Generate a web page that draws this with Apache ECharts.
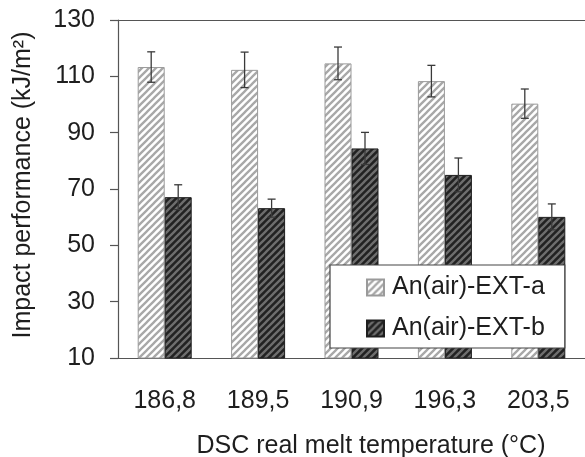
<!DOCTYPE html>
<html>
<head>
<meta charset="utf-8">
<script src="https://cdn.jsdelivr.net/npm/echarts@6/dist/echarts.min.js"></script>
<style>
  html, body { margin: 0; padding: 0; background: #fff; }
  #chart { width: 585px; height: 457px; }
</style>
</head>
<body>
<div id="chart"></div>
<script>
// Melt temperatures measured by DSC (°C)
const categories = ['186,8', '189,5', '190,9', '196,3', '203,5'];
// Impact performance (kJ/m²) and standard deviations
const seriesA = [113.3, 112.3, 114.6, 108.3, 100.3];
const errorA = [5.4, 6.3, 5.8, 5.6, 5.2];
const seriesB = [67.1, 63.2, 84.4, 75.0, 60.1];
const errorB = [4.4, 3.2, 5.7, 6.0, 4.6];
const yTicks = { min: 10, max: 130, step: 20 };
const seriesNames = ['An(air)-EXT-a', 'An(air)-EXT-b'];

const FONT = '"Liberation Sans", Arial, sans-serif';
const BAR_W = 27;

// Diagonal "/" hatch tile
function hatch(bg, fg, size, lw) {
  const c = document.createElement('canvas');
  c.width = size; c.height = size;
  const g = c.getContext('2d');
  g.fillStyle = bg;
  g.fillRect(0, 0, size, size);
  g.strokeStyle = fg;
  g.lineWidth = lw;
  g.lineCap = 'square';
  g.beginPath();
  g.moveTo(-1, size + 1); g.lineTo(size + 1, -1);
  g.moveTo(-1, 1); g.lineTo(1, -1);
  g.moveTo(size - 1, size + 1); g.lineTo(size + 1, size - 1);
  g.stroke();
  return c;
}

const patA = { image: hatch('#ffffff', '#a8a8a8', 7, 2.3), repeat: 'repeat' };
const patB = { image: hatch('#222222', '#6e6e6e', 7, 2.3), repeat: 'repeat' };

function errorSeries(values, errs, offset) {
  return {
    type: 'custom',
    xAxisIndex: 0,
    yAxisIndex: 0,
    silent: true,
    z: 5,
    data: values.map((v, i) => [i, v, errs[i]]),
    renderItem: function (params, api) {
      const i = api.value(0), v = api.value(1), e = api.value(2);
      const hi = api.coord([i, v + e]);
      const lo = api.coord([i, v - e]);
      const x = hi[0] + offset;
      const cap = 4;
      const style = { stroke: '#3a3a3a', lineWidth: 1.3 };
      return {
        type: 'group',
        children: [
          { type: 'line', shape: { x1: x, y1: hi[1], x2: x, y2: lo[1] }, style: style },
          { type: 'line', shape: { x1: x - cap, y1: hi[1], x2: x + cap, y2: hi[1] }, style: style },
          { type: 'line', shape: { x1: x - cap, y1: lo[1], x2: x + cap, y2: lo[1] }, style: style }
        ]
      };
    }
  };
}

const axisColor = '#555';
const textColor = '#1e1e1e';

const chart = echarts.init(document.getElementById('chart'), null, { renderer: 'canvas' });
chart.setOption({
  backgroundColor: '#ffffff',
  animation: false,
  grid: { left: 118, top: 20, width: 470, height: 338 },
  xAxis: [
    {
      type: 'category',
      data: categories,
      axisLine: { lineStyle: { color: axisColor, width: 1.2 } },
      axisTick: { length: 8, lineStyle: { color: axisColor, width: 1.2 } },
      axisLabel: { color: textColor, fontFamily: FONT, fontSize: 25, margin: 31 }
    },
    {
      type: 'category',
      position: 'top',
      data: categories,
      axisLine: { lineStyle: { color: axisColor, width: 1.2 } },
      axisTick: { show: false },
      axisLabel: { show: false }
    }
  ],
  yAxis: {
    type: 'value',
    min: yTicks.min,
    max: yTicks.max,
    interval: yTicks.step,
    axisLine: { show: true, lineStyle: { color: axisColor, width: 1.2 } },
    axisTick: { show: true, length: 8, lineStyle: { color: axisColor, width: 1.2 } },
    axisLabel: { color: textColor, fontFamily: FONT, fontSize: 25, margin: 23 },
    splitLine: { show: false }
  },
  legend: {
    left: 330,
    top: 265,
    orient: 'vertical',
    data: seriesNames,
    icon: 'rect',
    itemWidth: 17,
    itemHeight: 16,
    itemGap: 16,
    padding: [10, 20, 7, 36],
    borderColor: '#444',
    borderWidth: 1.2,
    backgroundColor: '#ffffff',
    textStyle: { color: textColor, fontFamily: FONT, fontSize: 25, padding: [0, 0, 0, 3] }
  },
  graphic: [
    {
      type: 'text',
      x: 23, y: 185,
      rotation: Math.PI / 2,
      style: {
        text: 'Impact performance (kJ/m²)',
        fontFamily: FONT, fontSize: 25, fill: textColor,
        align: 'center', verticalAlign: 'middle'
      }
    },
    {
      type: 'text',
      x: 371, y: 446,
      style: {
        text: 'DSC real melt temperature (°C)',
        fontFamily: FONT, fontSize: 25, fill: textColor,
        align: 'center', verticalAlign: 'middle'
      }
    }
  ],
  series: [
    {
      name: seriesNames[0],
      type: 'bar',
      data: seriesA,
      barWidth: BAR_W,
      barGap: '0%',
      itemStyle: { color: patA, borderColor: '#9a9a9a', borderWidth: 1 }
    },
    {
      name: seriesNames[1],
      type: 'bar',
      data: seriesB,
      barWidth: BAR_W,
      barGap: '0%',
      itemStyle: { color: patB, borderColor: '#1e1e1e', borderWidth: 1 }
    },
    errorSeries(seriesA, errorA, -BAR_W / 2),
    errorSeries(seriesB, errorB, BAR_W / 2)
  ]
});
</script>
</body>
</html>
